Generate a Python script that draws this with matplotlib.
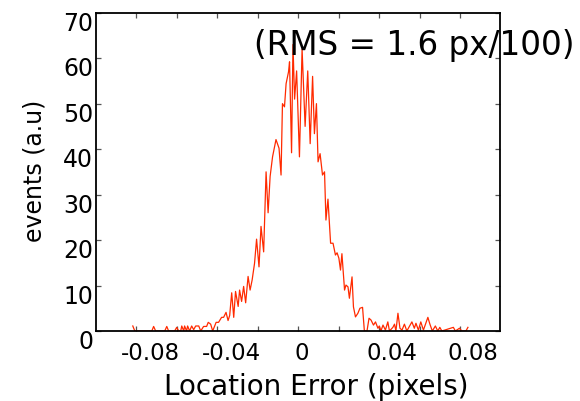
import matplotlib
matplotlib.use("Agg")
import matplotlib.pyplot as plt
from matplotlib.transforms import ScaledTranslation

# ---------------------------------------------
# DATA
# ---------------------------------------------
err = [-0.0818, -0.0808, -0.0724, -0.0715, -0.0705, -0.0660, -0.0650, -0.0641,
       -0.0611, -0.0601, -0.0591, -0.0581, -0.0576, -0.0566, -0.0562, -0.0552,
       -0.0547, -0.0537, -0.0527, -0.0517, -0.0507, -0.0492, -0.0482, -0.0468,
       -0.0453, -0.0445, -0.0433, -0.0423, -0.0406, -0.0394, -0.0379, -0.0369,
       -0.0357, -0.0347, -0.0339, -0.0329, -0.0319, -0.0310, -0.0297, -0.0290,
       -0.0280, -0.0270, -0.0260, -0.0248, -0.0238, -0.0228, -0.0216, -0.0206,
       -0.0194, -0.0184, -0.0171, -0.0159, -0.0149, -0.0139, -0.0127, -0.0110,
       -0.0095, -0.0085, -0.0078, -0.0068, -0.0060, -0.0048, -0.0043, -0.0033,
       -0.0026, -0.0018, -0.0008, 0.0006, 0.0019, 0.0034, 0.0047, 0.0059,
       0.0071, 0.0080, 0.0090, 0.0098, 0.0108, 0.0120, 0.0130, 0.0137,
       0.0147, 0.0160, 0.0172, 0.0184, 0.0192, 0.0201, 0.0209, 0.0216,
       0.0229, 0.0236, 0.0246, 0.0253, 0.0266, 0.0273, 0.0283, 0.0295,
       0.0305, 0.0318, 0.0327, 0.0340, 0.0350, 0.0360, 0.0372, 0.0382,
       0.0394, 0.0401, 0.0409, 0.0419, 0.0431, 0.0443, 0.0451, 0.0468,
       0.0476, 0.0483, 0.0493, 0.0503, 0.0513, 0.0525, 0.0537, 0.0562,
       0.0574, 0.0582, 0.0594, 0.0606, 0.0619, 0.0641, 0.0651, 0.0663,
       0.0678, 0.0690, 0.0700, 0.0710, 0.0767, 0.0777, 0.0797, 0.0809,
       0.0829, 0.0839]

events = [1.1, 0, 0, 1, 0, 0, 1, 0,
          0, 0.8, 0, 0, 1.1, 0, 1.1, 0,
          1.1, 0, 1.1, 0.3, 1.1, 1.1, 0, 1,
          1, 1.9, 1.5, 0, 1.9, 1.9, 3, 3,
          4.1, 2.3, 3.4, 8.4, 3, 8.7, 5.4, 9,
          6.5, 9.8, 6.2, 12, 9, 11.2, 14.9, 20.2,
          14.1, 23, 17.4, 35, 26, 34, 38.3, 42.1,
          40.2, 34.3, 50, 49.3, 54.4, 57, 59.2, 39.2,
          63, 51, 57.2, 38.3, 62, 45, 57.2, 41.2,
          56, 43.4, 50, 37.2, 39, 34.3, 35, 24.4,
          29, 19.3, 19.3, 16.7, 17.2, 16, 13.4, 17,
          9, 10.1, 9.7, 7.2, 11.9, 5.3, 3.1, 3.9,
          5, 5.2, 0, 0, 2.8, 2.4, 1.3, 2,
          0.6, 1.1, 0, 1.3, 0.2, 2, 0, 0.8,
          1.5, 0, 3.9, 0.6, 0.2, 1.5, 0, 2,
          0.6, 1.7, 0.2, 2, 0.2, 3, 1.5, 0,
          1.1, 0, 0.8, 0, 0.8, 0, 0.6, 0,
          0, 0.8]

xtick_vals   = [-0.08, -0.04, 0, 0.04, 0.08]
xtick_labels = ['-0.08', '-0.04', '0', '0.04', '0.08']
xminor_vals  = [-0.06, -0.02, 0.02, 0.06]
ytick_vals   = [0, 10, 20, 30, 40, 50, 60, 70]
ytick_labels = ['0', '10', '20', '30', '40', '50', '60', '70']
note = "(RMS = 1.6 px/100)"

# ---------------------------------------------
# PLOT
# ---------------------------------------------
plt.rcParams['font.family'] = ['DejaVu Sans']
plt.rcParams['axes.unicode_minus'] = False

fig = plt.figure(figsize=(5.8, 4.01), dpi=100)
ax = fig.add_axes([0.1655, 0.1746, 0.6974, 0.7937])

ax.plot(err, events, color='#ff2a00', lw=0.9)

ax.set_xlim(-0.1, 0.1)
ax.set_ylim(0, 70)

ax.set_xticks(xtick_vals)
ax.set_xticklabels(xtick_labels)
ax.set_xticks(xminor_vals, minor=True)
ax.set_yticks(ytick_vals)
ax.set_yticklabels(ytick_labels)

for s in ax.spines.values():
    s.set_linewidth(1.3)
    s.set_color('black')

ax.tick_params(which='both', direction='in', top=True, right=True,
               length=3.3, width=0.9, color='#555555')
ax.tick_params(axis='x', labelsize=16.5, pad=8)
ax.tick_params(axis='y', labelsize=17, pad=2)

# the labels in the source sit a bit off their ticks
x_shift = [14, 14, 4, 13, 13]
for lab, dx in zip(ax.get_xticklabels(), x_shift):
    lab.set_transform(lab.get_transform() +
                      ScaledTranslation(dx / 100, 0, fig.dpi_scale_trans))
for lab in ax.get_yticklabels():
    lab.set_transform(lab.get_transform() +
                      ScaledTranslation(0, -8.5 / 100, fig.dpi_scale_trans))

ax.set_xlabel('Location Error (pixels)', fontsize=20)
ax.xaxis.set_label_coords(0.545, -0.201)
ax.xaxis.label.set_verticalalignment('baseline')

ax.set_ylabel('events (a.u)', fontsize=17)
ax.yaxis.set_label_coords(-0.151, 0.503)
ax.yaxis.label.set_verticalalignment('center')

fig.text(254 / 580, 1 - 55 / 401, note, fontsize=23.5,
         ha='left', va='baseline')

fig.savefig('out.png', dpi=100)
